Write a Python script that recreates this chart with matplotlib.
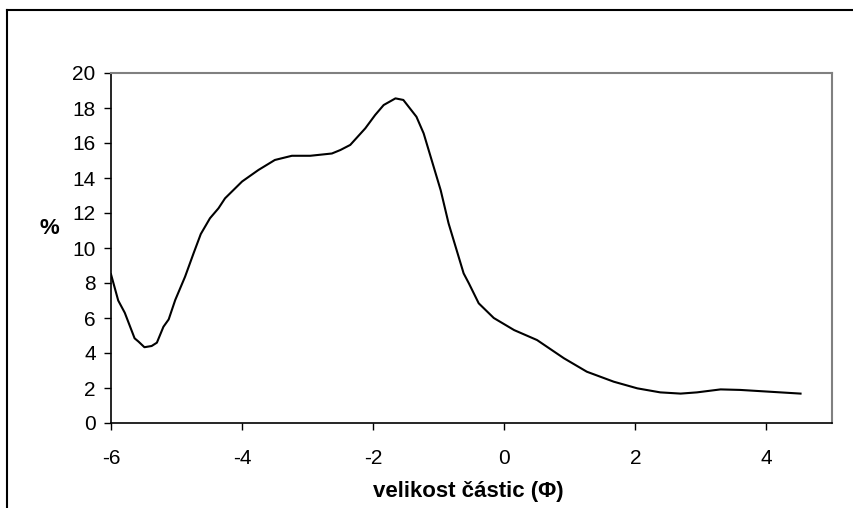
import matplotlib.pyplot as plt
from matplotlib.lines import Line2D

plt.rcParams['font.family'] = ['Liberation Sans', 'DejaVu Sans']
plt.rcParams['axes.unicode_minus'] = False

# velikost castic (phi) a podil (%)
phi = [-6.00, -5.89, -5.79, -5.64, -5.58, -5.49, -5.38, -5.30, -5.20, -5.12,
       -5.02, -4.87, -4.74, -4.63, -4.49, -4.36, -4.26, -4.00, -3.75, -3.50,
       -3.24, -2.96, -2.63, -2.50, -2.35, -2.12, -1.97, -1.84, -1.66, -1.54,
       -1.34, -1.23, -0.97, -0.85, -0.62, -0.54, -0.39, -0.16, 0.15, 0.50,
       0.91, 1.26, 1.67, 2.03, 2.38, 2.69, 2.94, 3.30, 3.60, 4.52]
procenta = [8.5, 7.0, 6.3, 4.84, 4.65, 4.33, 4.4, 4.59, 5.5, 5.92,
            7.03, 8.36, 9.7, 10.8, 11.7, 12.27, 12.84, 13.8, 14.46, 15.03,
            15.27, 15.27, 15.4, 15.6, 15.89, 16.84, 17.6, 18.17, 18.55, 18.46,
            17.5, 16.55, 13.3, 11.41, 8.55, 7.98, 6.84, 6.0, 5.31, 4.74,
            3.7, 2.93, 2.36, 1.98, 1.75, 1.68, 1.75, 1.92, 1.89, 1.68]

x_ticks = [-6, -4, -2, 0, 2, 4]
y_ticks = [0, 2, 4, 6, 8, 10, 12, 14, 16, 18, 20]

W, H = 854, 508
fig = plt.figure(figsize=(W / 100, H / 100), dpi=100)
ax = fig.add_axes([111 / W, 1 - 423 / H, (832 - 111) / W, (423 - 73) / H])

ax.plot(phi, procenta, color='black', linewidth=1.5)

ax.set_xlim(-6, 5)
ax.set_ylim(0, 20)
ax.set_xticks(x_ticks)
ax.set_yticks(y_ticks)
ax.tick_params(axis='both', labelsize=15, direction='out', length=5, width=1, color='black')
ax.tick_params(axis='y', pad=6)
ax.tick_params(axis='x', pad=14)

for s in ['top', 'right']:
    ax.spines[s].set_color('#808080')
    ax.spines[s].set_linewidth(1.5)
for s in ['left', 'bottom']:
    ax.spines[s].set_color('black')
    ax.spines[s].set_linewidth(1.2)

fig.text(468 / W, 1 - 492 / H, 'velikost částic (Φ)', ha='center', va='center',
         fontsize=16, fontweight='bold')
fig.text(49 / W, 1 - 229 / H, '%', ha='center', va='center',
         fontsize=16, fontweight='bold')

# vnejsi ramecek grafu
fig.add_artist(Line2D([7 / W, 1], [1 - 10 / H, 1 - 10 / H], color='black', linewidth=1.5))
fig.add_artist(Line2D([7 / W, 7 / W], [1 - 10 / H, 0], color='black', linewidth=1.5))

fig.savefig('out.png', dpi=100)
